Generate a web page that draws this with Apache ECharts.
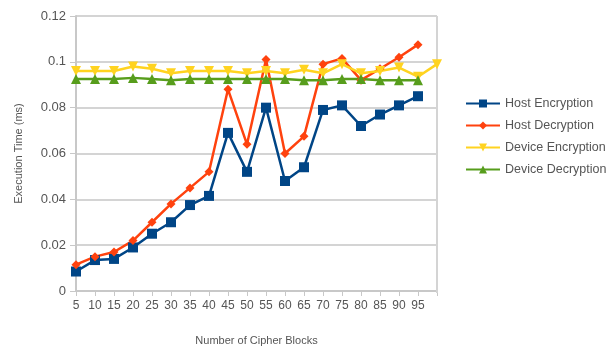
<!DOCTYPE html>
<html>
<head>
<meta charset="utf-8">
<script src="https://cdn.jsdelivr.net/npm/echarts@6/dist/echarts.min.js"></script>
<style>
  html, body { margin: 0; padding: 0; background: #fff; }
  #chart { width: 615px; height: 351px; }
</style>
</head>
<body>
<div id="chart"></div>
<script>
// Number of cipher blocks (the last column only carries the device-encryption point)
const blocks = [5, 10, 15, 20, 25, 30, 35, 40, 45, 50, 55, 60, 65, 70, 75, 80, 85, 90, 95, 100];

// Execution times in milliseconds
const hostEncryption = [0.0085, 0.0135, 0.014, 0.019, 0.025, 0.030, 0.0375, 0.0415, 0.069, 0.052,
  0.080, 0.048, 0.054, 0.079, 0.081, 0.072, 0.077, 0.081, 0.085, null];
const hostDecryption = [0.0115, 0.015, 0.017, 0.022, 0.030, 0.038, 0.045, 0.052, 0.088, 0.064,
  0.101, 0.060, 0.0675, 0.099, 0.1015, 0.092, 0.097, 0.102, 0.1075, null];
const deviceEncryption = [0.096, 0.096, 0.096, 0.098, 0.097, 0.095, 0.096, 0.096, 0.096, 0.095,
  0.096, 0.095, 0.0965, 0.095, 0.099, 0.095, 0.096, 0.0975, 0.0935, 0.099];
const deviceDecryption = [0.0925, 0.0925, 0.0925, 0.093, 0.0925, 0.092, 0.0925, 0.0925, 0.0925, 0.0925,
  0.0925, 0.0925, 0.092, 0.092, 0.0925, 0.0925, 0.092, 0.092, 0.092, null];

const yTicks = { min: 0, max: 0.12, step: 0.02 };

const seriesDefs = [
  { name: 'Host Encryption', data: hostEncryption, color: '#004586', symbol: 'rect', size: 10 },
  { name: 'Host Decryption', data: hostDecryption, color: '#ff420e', symbol: 'diamond', size: 9 },
  { name: 'Device Encryption', data: deviceEncryption, color: '#ffd320', symbol: 'triangle', size: 10, rotate: 180 },
  { name: 'Device Decryption', data: deviceDecryption, color: '#579d1c', symbol: 'triangle', size: 10 }
];

const chart = echarts.init(document.getElementById('chart'), null, { renderer: 'canvas' });
const font = 'Liberation Sans, Arial, sans-serif';

chart.setOption({
  animation: false,
  backgroundColor: '#fff',
  grid: { left: 76, right: 178, top: 16, bottom: 58, containLabel: false },
  legend: {
    orient: 'vertical',
    left: 460,
    top: 92,
    itemWidth: 34,
    itemHeight: 10,
    itemGap: 9,
    textStyle: { color: '#555', fontSize: 12.5, fontFamily: font },
    data: seriesDefs.map(s => s.name)
  },
  xAxis: {
    type: 'category',
    data: blocks.map(String),
    boundaryGap: false,
    name: 'Number of Cipher Blocks',
    nameLocation: 'middle',
    nameGap: 44,
    nameTextStyle: { color: '#555', fontSize: 11, fontFamily: font },
    axisLine: { lineStyle: { color: '#c8c8c8', width: 2 } },
    axisTick: { show: true, length: 5, interval: 0, lineStyle: { color: '#c8c8c8', width: 1 } },
    axisLabel: {
      color: '#555', fontSize: 12, fontFamily: 'Liberation Sans Narrow, ' + font, margin: 9,
      interval: 0,
      formatter: (v, i) => (i === blocks.length - 1 ? '' : v)
    },
    splitLine: { show: false }
  },
  yAxis: {
    type: 'value',
    min: yTicks.min,
    max: yTicks.max,
    interval: yTicks.step,
    name: 'Execution Time (ms)',
    nameLocation: 'middle',
    nameGap: 52,
    nameTextStyle: { color: '#555', fontSize: 11, fontFamily: font },
    axisLine: { show: true, lineStyle: { color: '#c8c8c8', width: 2 } },
    axisTick: { show: true, length: 6, lineStyle: { color: '#c8c8c8' } },
    axisLabel: { color: '#555', fontSize: 13, fontFamily: font, margin: 10 },
    splitLine: { show: true, lineStyle: { color: '#d4d4d4', width: 2 } }
  },
  series: seriesDefs.map(s => ({
    name: s.name,
    type: 'line',
    data: s.data,
    symbol: s.symbol,
    symbolSize: s.size,
    symbolRotate: s.rotate || 0,
    showAllSymbol: true,
    clip: true,
    connectNulls: false,
    lineStyle: { color: s.color, width: 2.5 },
    itemStyle: { color: s.color },
    emphasis: { disabled: true }
  })),
  graphic: [
    {
      type: 'line',
      shape: { x1: 437, y1: 16, x2: 437, y2: 293 },
      style: { stroke: '#d4d4d4', lineWidth: 2 },
      z: 1
    }
  ]
});
</script>
</body>
</html>
